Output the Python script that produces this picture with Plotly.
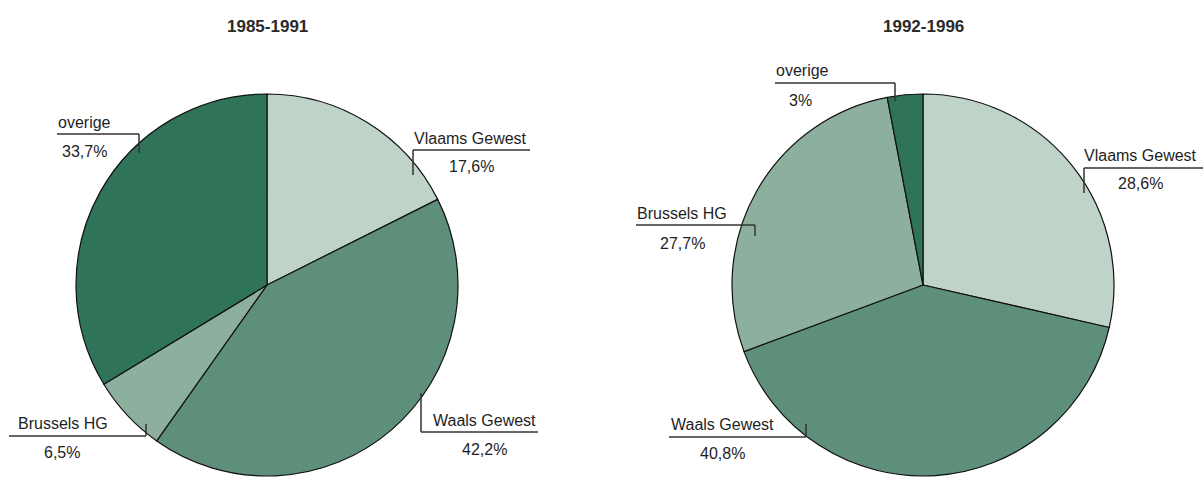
import plotly.graph_objects as go

# ---------------- data ----------------
categories = ["Vlaams Gewest", "Waals Gewest", "Brussels HG", "overige"]
titles = ["1985-1991", "1992-1996"]
values_1985_1991 = [17.6, 42.2, 6.5, 33.7]
values_1992_1996 = [28.6, 40.8, 27.7, 3]

# ---------------- styling / layout ----------------
W, H = 1203, 478
colors = ["#bfd3c9", "#5e8f7a", "#8daf9d", "#2f7359"]
FONT = "Liberation Sans, Arial, sans-serif"
TXT = "#1e1e1e"
LINE = "#333333"

pie_centers = [(267, 285), (923, 285)]
pie_radius = 191

# label layout per pie and category (pixels):
# tick x, tick y-end, line y, line x-end, name centre x, name y, pct centre x, pct y
label_layout = [
    {
        "Vlaams Gewest": dict(tx=413, ty=175, ly=150, lx=530, nx=470, ny=138, px=471, py=166),
        "Waals Gewest": dict(tx=421, ty=393, ly=432, lx=538, nx=484, ny=420, px=484, py=449),
        "Brussels HG": dict(tx=146, ty=424, ly=436, lx=9, nx=63, ny=423, px=62, py=452),
        "overige": dict(tx=139, ty=153, ly=134, lx=57, nx=84, ny=123, px=84, py=152),
    },
    {
        "Vlaams Gewest": dict(tx=1084, ty=193, ly=168, lx=1203, nx=1140, ny=155, px=1140, py=183),
        "Waals Gewest": dict(tx=806, ty=424, ly=437, lx=669, nx=722, ny=424, px=722, py=453),
        "Brussels HG": dict(tx=755, ty=236, ly=225, lx=636, nx=682, ny=213, px=682, py=243),
        "overige": dict(tx=895, ty=101, ly=83, lx=775, nx=802, ny=71, px=800, py=101),
    },
]


def fx(px):
    return px / W


def fy(py):
    return 1 - py / H


def fmt_pct(v):
    if float(v).is_integer():
        return f"{int(v)}%"
    return f"{v}".replace(".", ",") + "%"


fig = go.Figure()
annotations = []
shapes = []

for i, vals in enumerate([values_1985_1991, values_1992_1996]):
    cx, cy = pie_centers[i]
    r = pie_radius
    fig.add_trace(go.Pie(
        labels=categories,
        values=vals,
        sort=False,
        direction="clockwise",
        rotation=0,
        marker=dict(colors=colors, line=dict(color="#111111", width=1.2)),
        textinfo="none",
        hovertemplate="%{label}: %{value}%<extra></extra>",
        domain=dict(x=[fx(cx - r), fx(cx + r)], y=[fy(cy + r), fy(cy - r)]),
        showlegend=False,
    ))
    annotations.append(dict(
        text=f"<b>{titles[i]}</b>", x=fx(cx), y=fy(27), xref="paper", yref="paper",
        showarrow=False, xanchor="center", yanchor="middle",
        font=dict(family="Liberation Sans Narrow, Arial Narrow, sans-serif", size=17, color="#2a2a2a"),
    ))
    for cat, v in zip(categories, vals):
        L = label_layout[i][cat]
        # vertical tick
        shapes.append(dict(type="line", xref="paper", yref="paper",
                           x0=fx(L["tx"]), x1=fx(L["tx"]), y0=fy(L["ly"]), y1=fy(L["ty"]),
                           line=dict(color=LINE, width=1.5)))
        # horizontal line
        shapes.append(dict(type="line", xref="paper", yref="paper",
                           x0=fx(L["tx"]), x1=fx(L["lx"]), y0=fy(L["ly"]), y1=fy(L["ly"]),
                           line=dict(color=LINE, width=1.5)))
        annotations.append(dict(
            text=cat, x=fx(L["nx"]), y=fy(L["ny"]), xref="paper", yref="paper",
            showarrow=False, xanchor="center", yanchor="middle",
            font=dict(family=FONT, size=16, color=TXT),
        ))
        annotations.append(dict(
            text=fmt_pct(v), x=fx(L["px"]), y=fy(L["py"]), xref="paper", yref="paper",
            showarrow=False, xanchor="center", yanchor="middle",
            font=dict(family=FONT, size=16, color=TXT),
        ))

fig.update_layout(
    width=W, height=H,
    margin=dict(l=0, r=0, t=0, b=0),
    paper_bgcolor="white", plot_bgcolor="white",
    annotations=annotations, shapes=shapes,
)

fig.write_html(
    "out.html",
    config={"displayModeBar": False},
    post_script="document.body.style.margin='0';document.body.style.padding='0';"
                "document.body.style.overflow='hidden';",
)
